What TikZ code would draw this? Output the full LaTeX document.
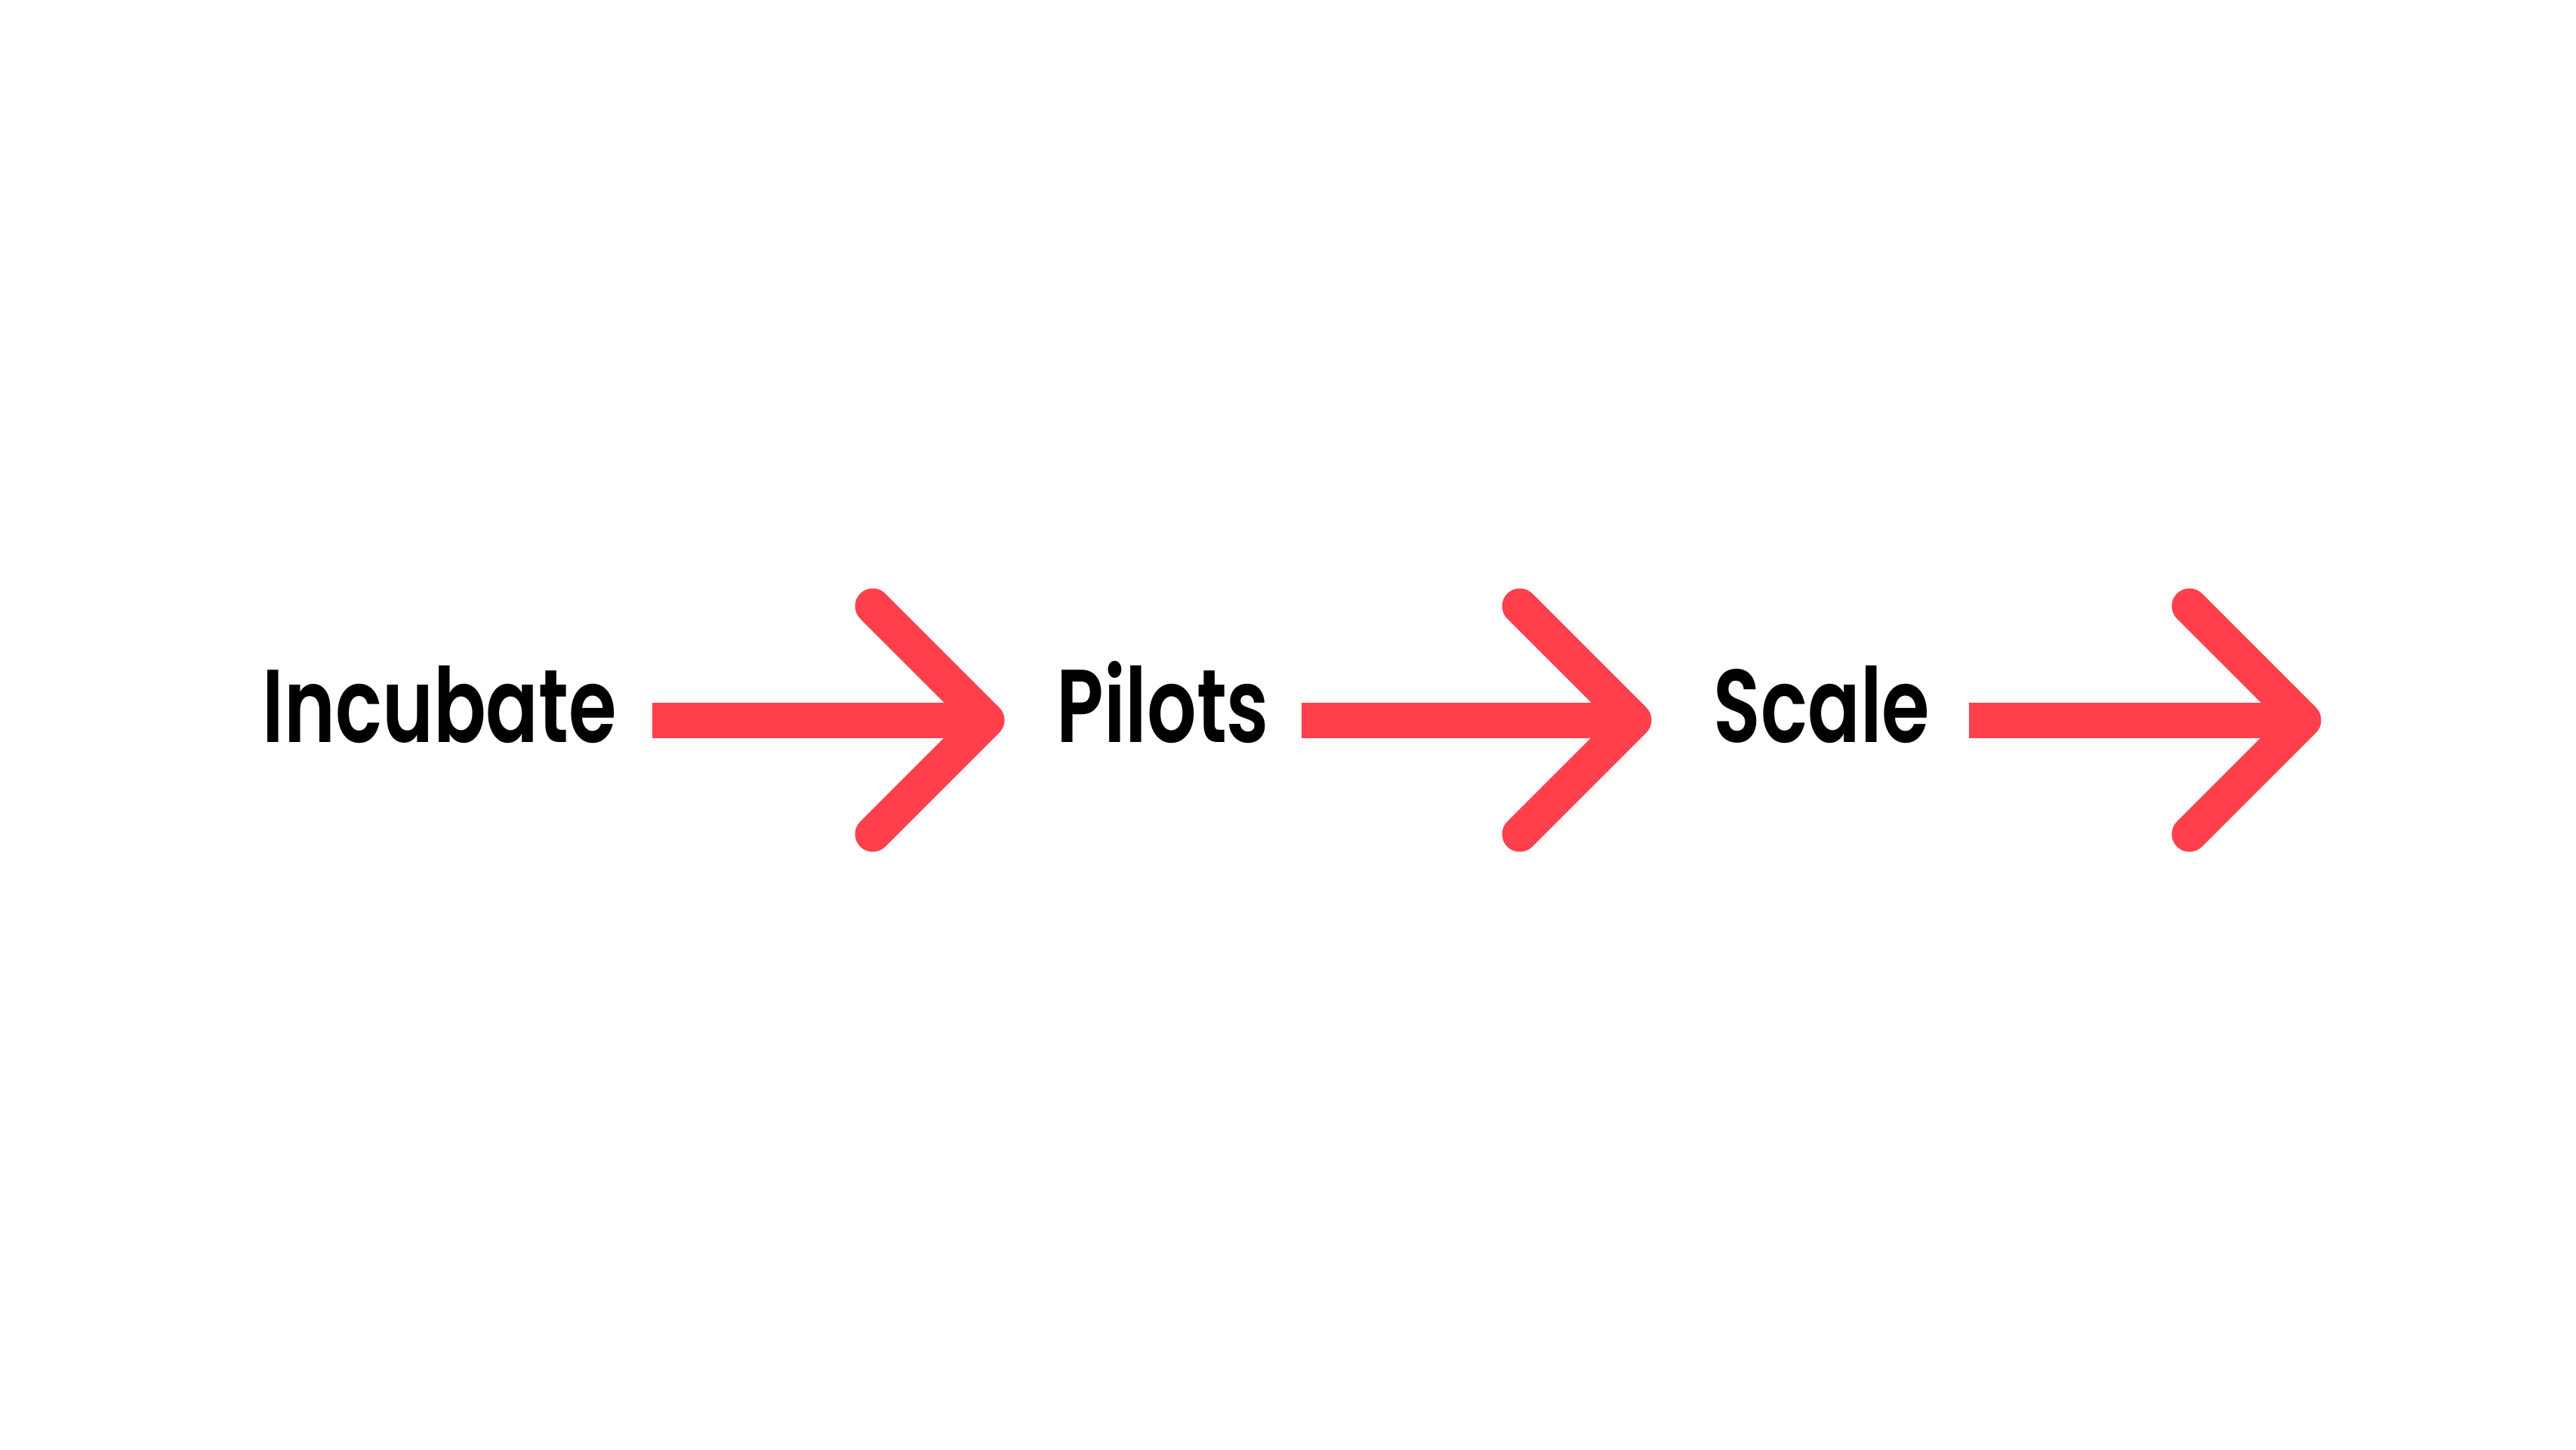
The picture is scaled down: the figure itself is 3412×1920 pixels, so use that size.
\documentclass[tikz,border=0pt]{standalone}
\usepackage{fontspec}
\setmainfont{Poppins}[FakeStretch=0.75, BoldFont={Poppins SemiBold}]
\usepackage{tikz}
\usetikzlibrary{positioning}
\definecolor{arrowred}{RGB}{255,64,76}

\begin{document}
\begin{tikzpicture}[x=0.01cm, y=-0.01cm,
    word/.style={anchor=base west, inner sep=0pt, font=\fontsize{39}{44}\selectfont\bfseries},
    shaft/.style={draw=arrowred, line width=0.47cm, line cap=butt},
    head/.style={draw=arrowred, line width=0.47cm, line cap=round, line join=round}]
    % 背景
    \fill[white] (0,0) rectangle (3412,1920);
    \useasboundingbox (0,0) rectangle (3412,1920);
    % 段階と矢印
    \foreach \i/\word/\x/\s/\t in {1/Incubate/347/864/1307, 2/Pilots/1399/1724/2164, 3/Scale/2269/2608/3051} {
        \node[word] (w\i) at (\x,983) {\word};
        \coordinate (tail\i) at (\s,954);
        \coordinate (tip\i) at (\t,954);
        \draw[shaft] (tail\i) -- (tip\i);
        \draw[head] ([shift={(-151,-151)}]tip\i) -- (tip\i) -- ([shift={(-151,151)}]tip\i);
    }
\end{tikzpicture}
\end{document}
